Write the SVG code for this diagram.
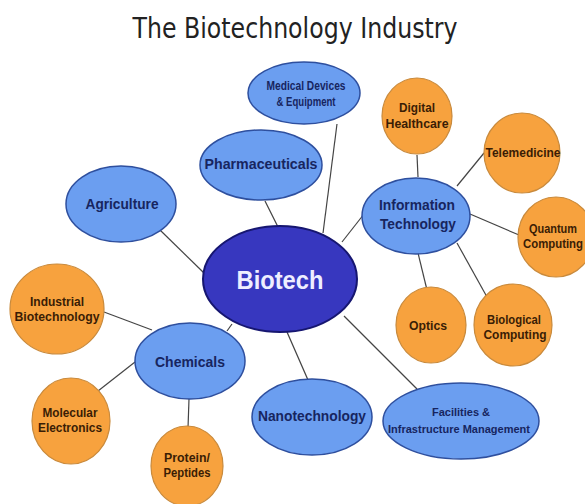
<svg xmlns="http://www.w3.org/2000/svg" width="585" height="504" viewBox="0 0 585 504">
<style>
.title{font-family:"DejaVu Sans","Liberation Sans",sans-serif;font-size:28px;fill:#222}
.blue{fill:#6b9ef0;stroke:#2e4f9e;stroke-width:1.5}
.org{fill:#f7a23e;stroke:#c98a3c;stroke-width:1.2}
.core{fill:#3737bf;stroke:#161670;stroke-width:2}
.t{font-family:"Liberation Sans",Arial,sans-serif;font-weight:bold;text-anchor:middle}
.tb{fill:#17255f}
.to{fill:#3a1d05}
.tw{fill:#eeeeff}
.conn line{stroke:#444;stroke-width:1.2}
</style>
<rect width="585" height="504" fill="#fff"/>
<text class="title" x="295" y="38" text-anchor="middle" textLength="325" lengthAdjust="spacingAndGlyphs">The Biotechnology Industry</text>
<g class="conn">
<line x1="337" y1="124" x2="323" y2="233"/>
<line x1="265" y1="201" x2="278" y2="227"/>
<line x1="160" y1="230" x2="204" y2="273"/>
<line x1="104" y1="312" x2="152" y2="330"/>
<line x1="232" y1="324" x2="227" y2="331"/>
<line x1="342" y1="242" x2="364" y2="214"/>
<line x1="417" y1="155" x2="418" y2="177"/>
<line x1="457" y1="186" x2="484" y2="153"/>
<line x1="470" y1="214" x2="519" y2="235"/>
<line x1="418" y1="253" x2="427" y2="290"/>
<line x1="457" y1="243" x2="487" y2="297"/>
<line x1="344" y1="316" x2="417" y2="389"/>
<line x1="287" y1="332" x2="308" y2="380"/>
<line x1="135" y1="362" x2="98" y2="391"/>
<line x1="189" y1="399" x2="188" y2="428"/>
</g>
<g id="medical"><ellipse class="blue" cx="304" cy="93" rx="56" ry="31"/>
<text class="t tb" x="306" y="90" font-size="12" textLength="79" lengthAdjust="spacingAndGlyphs">Medical Devices</text>
<text class="t tb" x="306" y="106" font-size="12" textLength="59" lengthAdjust="spacingAndGlyphs">&amp; Equipment</text></g>
<g id="digital"><ellipse class="org" cx="417" cy="116" rx="35" ry="38"/>
<text class="t to" x="417" y="112" font-size="12" textLength="36" lengthAdjust="spacingAndGlyphs">Digital</text>
<text class="t to" x="417" y="128" font-size="12" textLength="63" lengthAdjust="spacingAndGlyphs">Healthcare</text></g>
<g id="pharma"><ellipse class="blue" cx="261" cy="165" rx="61" ry="35"/>
<text class="t tb" x="261" y="169" font-size="15" textLength="113" lengthAdjust="spacingAndGlyphs">Pharmaceuticals</text></g>
<g id="telemedicine"><ellipse class="org" cx="522" cy="153" rx="38" ry="40"/>
<text class="t to" x="523" y="157" font-size="12" textLength="75" lengthAdjust="spacingAndGlyphs">Telemedicine</text></g>
<g id="agriculture"><ellipse class="blue" cx="121" cy="204" rx="55" ry="38"/>
<text class="t tb" x="122" y="209" font-size="14" textLength="73" lengthAdjust="spacingAndGlyphs">Agriculture</text></g>
<g id="it"><ellipse class="blue" cx="416" cy="216" rx="54" ry="38"/>
<text class="t tb" x="417" y="210" font-size="14" textLength="76" lengthAdjust="spacingAndGlyphs">Information</text>
<text class="t tb" x="418" y="229" font-size="14" textLength="76" lengthAdjust="spacingAndGlyphs">Technology</text></g>
<g id="quantum"><ellipse class="org" cx="556" cy="237" rx="38" ry="40"/>
<text class="t to" x="553" y="233" font-size="12" textLength="48" lengthAdjust="spacingAndGlyphs">Quantum</text>
<text class="t to" x="553" y="248" font-size="12" textLength="60" lengthAdjust="spacingAndGlyphs">Computing</text></g>
<g id="biotech"><ellipse class="core" cx="280" cy="279" rx="77" ry="53"/>
<text class="t tw" x="280" y="289" font-size="26" textLength="87" lengthAdjust="spacingAndGlyphs">Biotech</text></g>
<g id="industrial"><ellipse class="org" cx="57" cy="309" rx="47" ry="45"/>
<text class="t to" x="57" y="306" font-size="12" textLength="54" lengthAdjust="spacingAndGlyphs">Industrial</text>
<text class="t to" x="57" y="321" font-size="12" textLength="85" lengthAdjust="spacingAndGlyphs">Biotechnology</text></g>
<g id="optics"><ellipse class="org" cx="431" cy="325" rx="35" ry="38"/>
<text class="t to" x="428" y="330" font-size="12" textLength="38" lengthAdjust="spacingAndGlyphs">Optics</text></g>
<g id="biological"><ellipse class="org" cx="513" cy="325" rx="39" ry="41"/>
<text class="t to" x="514" y="324" font-size="12" textLength="54" lengthAdjust="spacingAndGlyphs">Biological</text>
<text class="t to" x="515" y="339" font-size="12" textLength="63" lengthAdjust="spacingAndGlyphs">Computing</text></g>
<g id="chemicals"><ellipse class="blue" cx="190" cy="361" rx="55" ry="38"/>
<text class="t tb" x="190" y="367" font-size="15" textLength="70" lengthAdjust="spacingAndGlyphs">Chemicals</text></g>
<g id="molecular"><ellipse class="org" cx="71" cy="421" rx="39" ry="43"/>
<text class="t to" x="70" y="417" font-size="12" textLength="55" lengthAdjust="spacingAndGlyphs">Molecular</text>
<text class="t to" x="70" y="432" font-size="12" textLength="64" lengthAdjust="spacingAndGlyphs">Electronics</text></g>
<g id="nano"><ellipse class="blue" cx="312" cy="417" rx="60" ry="38"/>
<text class="t tb" x="312" y="421" font-size="15" textLength="108" lengthAdjust="spacingAndGlyphs">Nanotechnology</text></g>
<g id="facilities"><ellipse class="blue" cx="461" cy="421" rx="78" ry="38"/>
<text class="t tb" x="461" y="416" font-size="11" textLength="58" lengthAdjust="spacingAndGlyphs">Facilities &amp;</text>
<text class="t tb" x="459" y="433" font-size="11" textLength="142" lengthAdjust="spacingAndGlyphs">Infrastructure Management</text></g>
<g id="protein"><ellipse class="org" cx="187" cy="466" rx="36" ry="40"/>
<text class="t to" x="187" y="462" font-size="12" textLength="46" lengthAdjust="spacingAndGlyphs">Protein/</text>
<text class="t to" x="187" y="477" font-size="12" textLength="47" lengthAdjust="spacingAndGlyphs">Peptides</text></g>
</svg>
